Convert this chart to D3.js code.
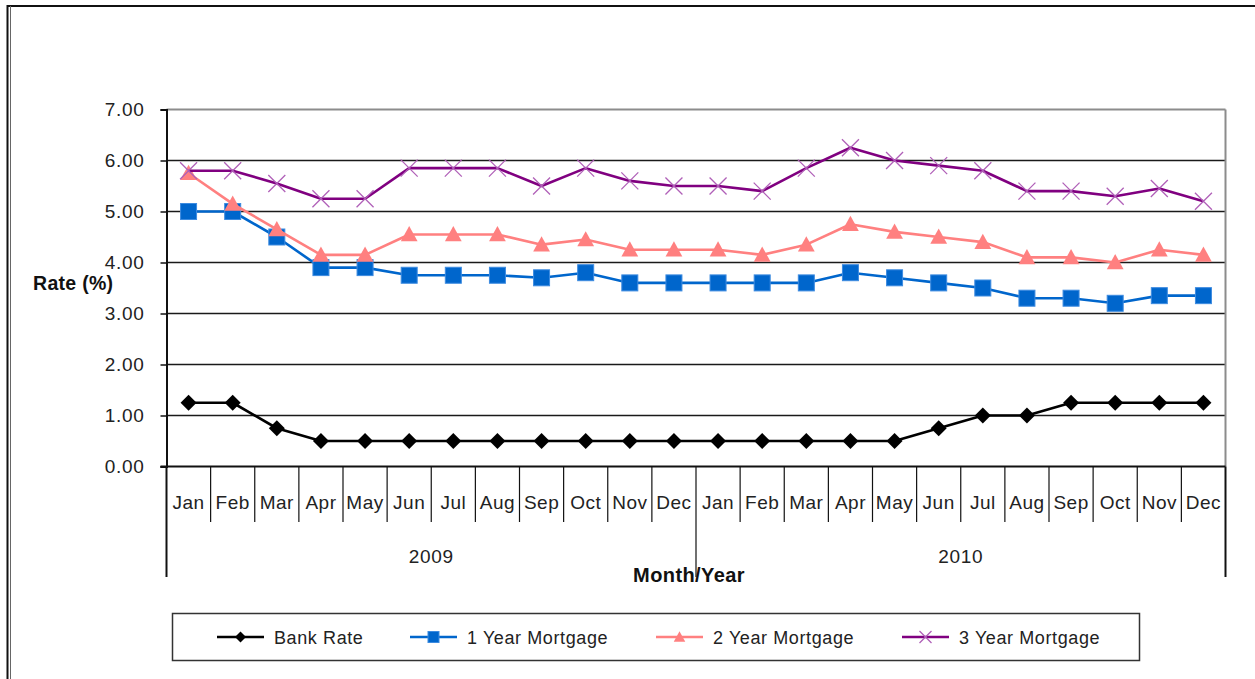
<!DOCTYPE html>
<html>
<head>
<meta charset="utf-8">
<script src="https://cdn.jsdelivr.net/npm/d3@7"></script>
<style>
  html, body { margin: 0; padding: 0; background: #fff; }
  svg { display: block; font-family: "Liberation Sans", Arial, sans-serif; }
</style>
</head>
<body>
<svg id="chart" width="1255" height="679"></svg>
<script>
// Monthly rates, Jan 2009 – Dec 2010
const months = ["Jan","Feb","Mar","Apr","May","Jun","Jul","Aug","Sep","Oct","Nov","Dec"];
const years = ["2009", "2010"];
const yTicks = [0, 1, 2, 3, 4, 5, 6, 7];

const bankRate = [1.25,1.25,0.75,0.5,0.5,0.5,0.5,0.5,0.5,0.5,0.5,0.5,
                  0.5,0.5,0.5,0.5,0.5,0.75,1.0,1.0,1.25,1.25,1.25,1.25];
const mortgage1 = [5.0,5.0,4.5,3.9,3.9,3.75,3.75,3.75,3.7,3.8,3.6,3.6,
                   3.6,3.6,3.6,3.8,3.7,3.6,3.5,3.3,3.3,3.2,3.35,3.35];
const mortgage2 = [5.75,5.15,4.65,4.15,4.15,4.55,4.55,4.55,4.35,4.45,4.25,4.25,
                   4.25,4.15,4.35,4.75,4.6,4.5,4.4,4.1,4.1,4.0,4.25,4.15];
const mortgage3 = [5.8,5.8,5.55,5.25,5.25,5.85,5.85,5.85,5.5,5.85,5.6,5.5,
                   5.5,5.4,5.85,6.25,6.0,5.9,5.8,5.4,5.4,5.3,5.45,5.2];

const seriesNames = ["Bank Rate", "1 Year Mortgage", "2 Year Mortgage", "3 Year Mortgage"];

const series = [
  { name: seriesNames[0], values: bankRate,  line: "#000000", fill: "#000000", stroke: "none",    marker: "diamond" },
  { name: seriesNames[1], values: mortgage1, line: "#0066cc", fill: "#0066cc", stroke: "#3d8be0", marker: "square" },
  { name: seriesNames[2], values: mortgage2, line: "#ff8080", fill: "#ff8080", stroke: "none",    marker: "triangle" },
  { name: seriesNames[3], values: mortgage3, line: "#800080", fill: "none",    stroke: "#b060b8", marker: "cross" }
];

const categories = years.flatMap(y => months.map(m => ({ month: m, year: y })));

const svg = d3.select("#chart");

// outer frame
svg.append("line").attr("x1", 7).attr("x2", 1255).attr("y1", 6).attr("y2", 6)
  .attr("stroke", "#111").attr("stroke-width", 2);
svg.append("line").attr("x1", 7.5).attr("x2", 7.5).attr("y1", 5).attr("y2", 679)
  .attr("stroke", "#111").attr("stroke-width", 2);
svg.append("line").attr("x1", 10.5).attr("x2", 10.5).attr("y1", 6).attr("y2", 679)
  .attr("stroke", "#666").attr("stroke-width", 1);

const plot = { left: 166.5, right: 1225.5, top: 109.5, bottom: 466.5 };

const x = d3.scaleBand()
  .domain(d3.range(categories.length))
  .range([plot.left, plot.right])
  .padding(0);

const y = d3.scaleLinear()
  .domain([0, 7])
  .range([plot.bottom, plot.top]);

const cx = i => x(i) + x.bandwidth() / 2;

// horizontal gridlines
svg.append("g")
  .selectAll("line")
  .data(yTicks.filter(t => t > 0 && t < 7))
  .join("line")
  .attr("x1", plot.left).attr("x2", plot.right)
  .attr("y1", d => y(d)).attr("y2", d => y(d))
  .attr("stroke", "#1a1a1a").attr("stroke-width", 1.4);

// top and right edges of the plot area
svg.append("line").attr("x1", plot.left).attr("x2", plot.right)
  .attr("y1", y(7)).attr("y2", y(7))
  .attr("stroke", "#8c8c8c").attr("stroke-width", 2);
svg.append("line").attr("x1", plot.right).attr("x2", plot.right)
  .attr("y1", y(7)).attr("y2", plot.bottom)
  .attr("stroke", "#8c8c8c").attr("stroke-width", 2);

// value axis
const yAxis = d3.axisLeft(y)
  .tickValues(yTicks)
  .tickFormat(d3.format(".2f"))
  .tickSize(6)
  .tickPadding(16);
const yg = svg.append("g")
  .attr("transform", `translate(${plot.left},0)`)
  .call(yAxis);
yg.select(".domain").attr("stroke", "#111").attr("stroke-width", 2);
yg.selectAll(".tick line").attr("stroke", "#111").attr("stroke-width", 1.5);
yg.selectAll(".tick text")
  .attr("fill", "#222")
  .style("font-size", "19px")
  .style("letter-spacing", "0.7px")
  .attr("font-family", "Liberation Sans, Arial, sans-serif");

// category axis baseline
svg.append("line").attr("x1", plot.left - 6).attr("x2", plot.right)
  .attr("y1", plot.bottom).attr("y2", plot.bottom)
  .attr("stroke", "#111").attr("stroke-width", 2);

// month separators; year boundaries run deeper
const bounds = d3.range(categories.length + 1);
svg.append("g")
  .selectAll("line")
  .data(bounds)
  .join("line")
  .attr("x1", i => i < categories.length ? x(i) : plot.right)
  .attr("x2", i => i < categories.length ? x(i) : plot.right)
  .attr("y1", plot.bottom)
  .attr("y2", i => i % months.length === 0 ? 577 : 522)
  .attr("stroke", "#111")
  .attr("stroke-width", i => (i === 0 || i === categories.length) ? 2 : 1.2);

// month labels
svg.append("g")
  .selectAll("text")
  .data(categories)
  .join("text")
  .attr("x", (d, i) => cx(i))
  .attr("y", 509)
  .attr("text-anchor", "middle")
  .attr("fill", "#222")
  .style("font-size", "19px")
  .style("letter-spacing", "0.5px")
  .text(d => d.month);

// year labels
svg.append("g")
  .selectAll("text")
  .data(years)
  .join("text")
  .attr("x", (d, k) => (x(k * months.length) + (k === years.length - 1 ? plot.right : x((k + 1) * months.length))) / 2)
  .attr("y", 563)
  .attr("text-anchor", "middle")
  .attr("fill", "#222")
  .style("font-size", "19px")
  .style("letter-spacing", "0.7px")
  .text(d => d);

// axis titles
svg.append("text")
  .attr("x", 689).attr("y", 582)
  .attr("text-anchor", "middle")
  .attr("font-weight", "bold")
  .attr("fill", "#111")
  .style("font-size", "20px")
  .style("letter-spacing", "0.4px")
  .text("Month/Year");

svg.append("text")
  .attr("x", 33).attr("y", 290)
  .attr("font-weight", "bold")
  .attr("fill", "#111")
  .style("font-size", "19.5px")
  .style("letter-spacing", "0.3px")
  .text("Rate (%)");

// marker shapes
function drawMarker(g, type, s, fill, stroke) {
  if (type === "diamond") {
    g.append("path").attr("d", `M0,${-s}L${s},0L0,${s}L${-s},0Z`).attr("fill", fill);
  } else if (type === "square") {
    g.append("rect").attr("x", -s).attr("y", -s).attr("width", 2 * s).attr("height", 2 * s)
      .attr("fill", fill).attr("stroke", stroke).attr("stroke-width", 1);
  } else if (type === "triangle") {
    g.append("path").attr("d", `M0,${-s * 1.05}L${s * 1.05},${s * 0.85}L${-s * 1.05},${s * 0.85}Z`).attr("fill", fill);
  } else if (type === "cross") {
    g.append("path").attr("d", `M${-s},${-s}L${s},${s}M${-s},${s}L${s},${-s}`)
      .attr("stroke", stroke).attr("stroke-width", 1.3).attr("fill", "none");
  }
}

const markerSize = { diamond: 8, square: 8, triangle: 8, cross: 8.5 };

const line = d3.line()
  .x((d, i) => cx(i))
  .y(d => y(d));

series.forEach(s => {
  const g = svg.append("g");
  g.append("path")
    .datum(s.values)
    .attr("d", line)
    .attr("fill", "none")
    .attr("stroke", s.line)
    .attr("stroke-width", 2.6)
    .attr("stroke-linejoin", "round");
  s.values.forEach((v, i) => {
    const mg = g.append("g").attr("transform", `translate(${cx(i)},${y(v)})`);
    drawMarker(mg, s.marker, markerSize[s.marker], s.fill, s.stroke);
  });
});

// legend
const legend = svg.append("g");
legend.append("rect")
  .attr("x", 172.5).attr("y", 613.5)
  .attr("width", 967).attr("height", 47)
  .attr("fill", "#fff").attr("stroke", "#333").attr("stroke-width", 1.5);

const legendX = [217, 410, 656, 902];
series.forEach((s, k) => {
  const lx = legendX[k];
  const g = legend.append("g").attr("transform", `translate(${lx},637)`);
  g.append("line").attr("x1", 0).attr("x2", 47).attr("y1", 0).attr("y2", 0)
    .attr("stroke", s.line).attr("stroke-width", 2.6);
  const mg = g.append("g").attr("transform", "translate(23.5,0)");
  drawMarker(mg, s.marker, s.marker === "cross" ? 6 : 5.5, s.fill, s.stroke);
  g.append("text")
    .attr("x", 57).attr("y", 6.5)
    .attr("fill", "#222")
    .style("font-size", "18px")
    .style("letter-spacing", "0.6px")
    .text(s.name);
});
</script>
</body>
</html>
